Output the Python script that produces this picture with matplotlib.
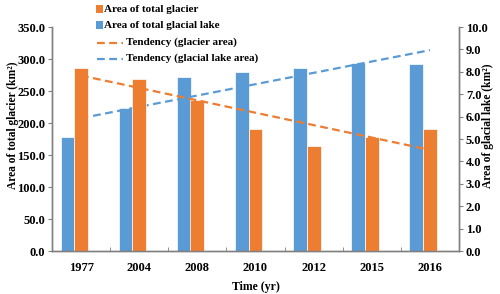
import numpy as np
import matplotlib
matplotlib.use("Agg")
import matplotlib.pyplot as plt
from matplotlib.patches import Rectangle
from matplotlib.lines import Line2D

plt.rcParams['font.family'] = ['Liberation Serif', 'DejaVu Serif']
plt.rcParams['font.weight'] = 'bold'

years = ["1977", "2004", "2008", "2010", "2012", "2015", "2016"]
glacier = [286, 269, 236, 190, 164, 178, 190]          # km2, left axis
lake = [5.10, 6.38, 7.77, 7.99, 8.17, 8.39, 8.35]      # km2, right axis

c_glacier = "#ED7D31"
c_lake = "#5B9BD5"
spine_c = "#808080"

x = np.arange(len(years))
# linear trend (what excel draws as "Tendency")
kg = np.polyfit(x, glacier, 1)
kl = np.polyfit(x, lake, 1)

fig = plt.figure(figsize=(5, 2.94), dpi=100)
ax = fig.add_axes([0.104, 0.146, 0.814, 0.762])
ax2 = ax.twinx()

ax2.bar(x - 0.235, lake, width=0.235, color=c_lake, edgecolor="white", linewidth=0.5)
ax.bar(x, glacier, width=0.24, color=c_glacier, edgecolor="white", linewidth=0.5)
ax.set_zorder(ax2.get_zorder() + 1)
ax.patch.set_visible(False)

ax.plot(x, np.polyval(kg, x), color=c_glacier, lw=1.6, dashes=(3.5, 2))
ax2.plot(x, np.polyval(kl, x), color=c_lake, lw=1.6, dashes=(3.5, 2))

ax.set_xlim(-0.5, len(years) - 0.5)
ax.set_ylim(0, 350)
ax2.set_ylim(0, 10)
ax.set_yticks(np.arange(0, 351, 50))
ax2.set_yticks(np.arange(0, 11, 1))
ax.set_yticklabels(["%.1f" % v for v in np.arange(0, 351, 50)])
ax2.set_yticklabels(["%.1f" % v for v in np.arange(0, 11, 1)])

ax.set_xticks(x)
ax.set_xticklabels(years)
ax.set_xticks(np.arange(0.5, len(years) - 0.5, 1), minor=True)
ax.tick_params(axis='x', which='major', length=0, pad=8, labelsize=9)
ax.tick_params(axis='x', which='minor', length=3, direction='in', color=spine_c)
ax.tick_params(axis='y', length=3, color=spine_c, labelsize=9, pad=2)
ax2.tick_params(axis='y', length=3, color=spine_c, labelsize=9, pad=2)

for a in (ax, ax2):
    a.spines['top'].set_visible(False)
    for s in ('left', 'right', 'bottom'):
        a.spines[s].set_color(spine_c)
        a.spines[s].set_linewidth(1.0)

ax.set_xlabel("Time (yr)", fontsize=8.5, fontweight='bold', labelpad=5)
ax.set_ylabel("Area of total glacier (km²)", fontsize=8.3, fontweight='bold')
ax2.set_ylabel("Area of glacial lake (km²)", fontsize=8.3, fontweight='bold')
ax.yaxis.set_label_coords(-0.08, 0.56)
ax2.yaxis.set_label_coords(1.056, 0.56)

# legend drawn as in the original (square patches, long dashes)
def px(xp, yp):
    return xp / 500, 1 - yp / 294

items = [("Area of total glacier", c_glacier, "bar", 9),
         ("Area of total glacial lake", c_lake, "bar", 25),
         ("Tendency (glacier area)", c_glacier, "line", 42),
         ("Tendency (glacial lake area)", c_lake, "line", 58)]
for label, col, kind, yp in items:
    if kind == "bar":
        x0, y0 = px(96, yp + 3.5)
        fig.add_artist(Rectangle((x0, y0), 7 / 500, 7 / 294, transform=fig.transFigure,
                                 color=col, lw=0))
        tx = 104
    else:
        xa, ya = px(97, yp + 1)
        xb, _ = px(123, yp + 1)
        fig.add_artist(Line2D([xa, xb], [ya, ya], transform=fig.transFigure, color=col,
                              lw=1.6, dashes=(3.5, 2)))
        tx = 126
    tx, ty = px(tx, yp)
    fig.text(tx, ty, label, fontsize=8, fontweight='bold', va='center', ha='left')

fig.savefig("out.png", dpi=100)
